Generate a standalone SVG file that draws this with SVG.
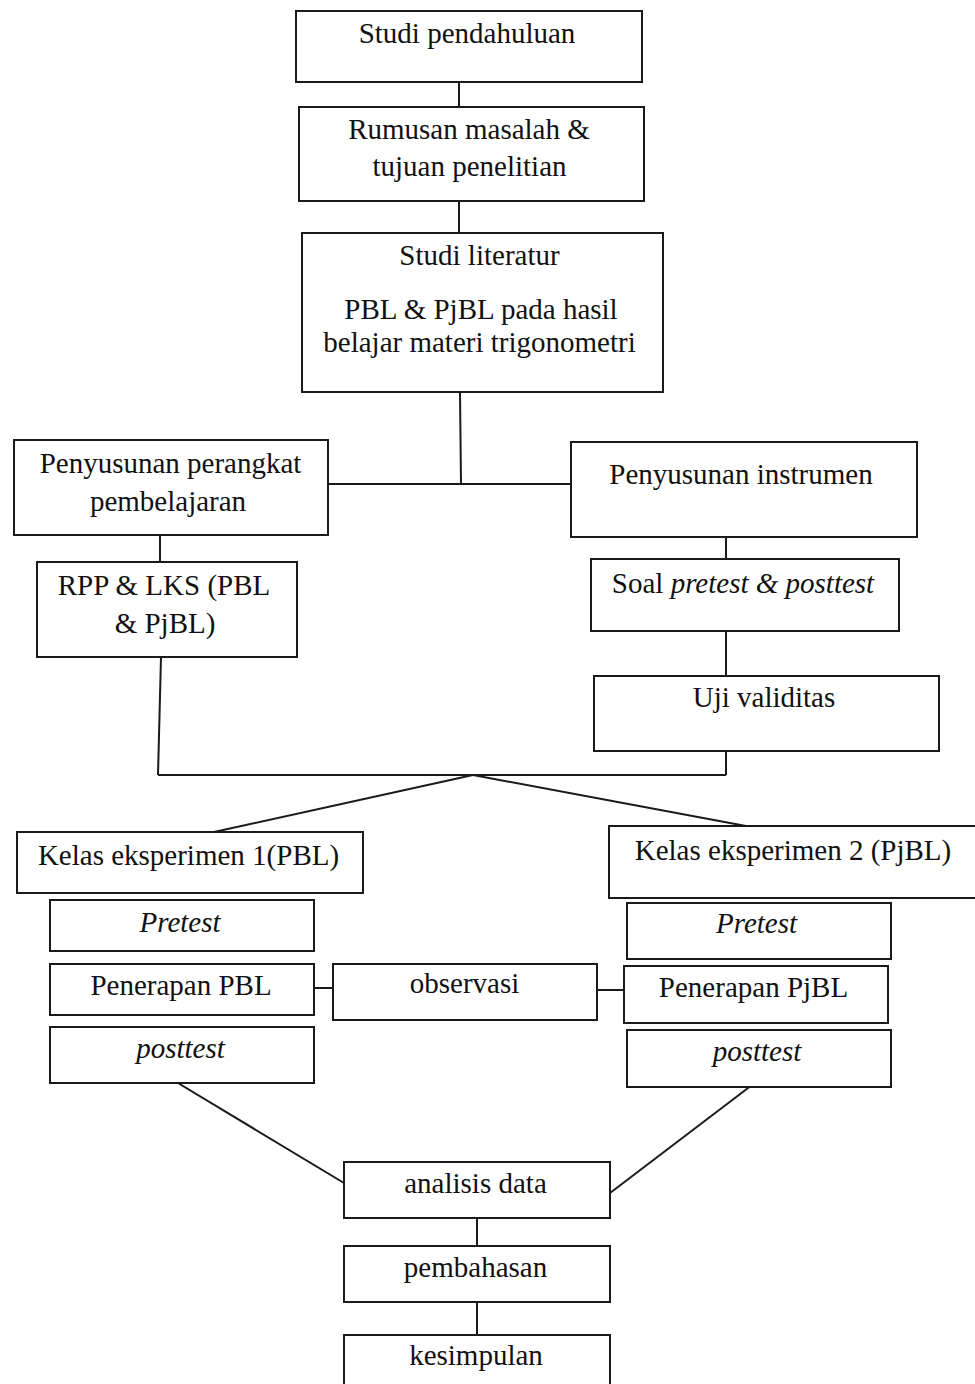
<svg xmlns="http://www.w3.org/2000/svg" width="975" height="1384" viewBox="0 0 975 1384">
<style>
.b{fill:#fff;stroke:#1a1a1a;stroke-width:2}
.c line,.c polyline{stroke:#1a1a1a;stroke-width:2;fill:none}
text{font-family:"Liberation Serif","Times New Roman",serif;font-size:29px;fill:#111;text-anchor:middle}
.i{font-style:italic}
</style>
<rect width="975" height="1384" fill="#fff"/>
<g class="c" id="connectors">
<line x1="459" y1="82" x2="459" y2="107"/>
<line x1="459" y1="201" x2="459" y2="233"/>
<line x1="460" y1="392" x2="461" y2="484"/>
<line x1="328" y1="484" x2="571" y2="484"/>
<line x1="160" y1="535" x2="160" y2="562"/>
<line x1="726" y1="537" x2="726" y2="559"/>
<line x1="726" y1="631" x2="726" y2="676"/>
<line x1="161" y1="657" x2="158" y2="775"/>
<line x1="158" y1="775" x2="726" y2="775"/>
<line x1="726" y1="751" x2="726" y2="775"/>
<line x1="473" y1="775" x2="214" y2="832"/>
<line x1="473" y1="775" x2="746" y2="826"/>
<line x1="314" y1="988" x2="333" y2="988"/>
<line x1="597" y1="990" x2="624" y2="990"/>
<line x1="168" y1="1077" x2="344" y2="1183"/>
<line x1="752" y1="1085" x2="610" y2="1193"/>
<line x1="477" y1="1218" x2="477" y2="1246"/>
<line x1="477" y1="1302" x2="477" y2="1335"/>
</g>
<g id="n1"><rect class="b" x="296" y="11" width="346" height="71"/><text x="467" y="43">Studi pendahuluan</text></g>
<g id="n2"><rect class="b" x="299" y="107" width="345" height="94"/><text x="469" y="139">Rumusan masalah &amp;</text><text x="469.5" y="176">tujuan penelitian</text></g>
<g id="n3"><rect class="b" x="302" y="233" width="361" height="159"/><text x="479.5" y="265">Studi literatur</text><text x="481" y="319">PBL &amp; PjBL pada hasil</text><text x="479.5" y="352">belajar materi trigonometri</text></g>
<g id="n4"><rect class="b" x="14" y="440" width="314" height="95"/><text x="170.5" y="473">Penyusunan perangkat</text><text x="168" y="511">pembelajaran</text></g>
<g id="n5"><rect class="b" x="571" y="442" width="346" height="95"/><text x="741" y="484">Penyusunan instrumen</text></g>
<g id="n6"><rect class="b" x="37" y="562" width="260" height="95"/><text x="164" y="595">RPP &amp; LKS (PBL</text><text x="165" y="633">&amp; PjBL)</text></g>
<g id="n7"><rect class="b" x="591" y="559" width="308" height="72"/><text x="743" y="593">Soal <tspan class="i">pretest &amp; posttest</tspan></text></g>
<g id="n8"><rect class="b" x="594" y="676" width="345" height="75"/><text x="764" y="707">Uji validitas</text></g>
<g id="n9"><rect class="b" x="17" y="832" width="346" height="61"/><text x="188.5" y="865">Kelas eksperimen 1(PBL)</text></g>
<g id="n10"><rect class="b" x="609" y="826" width="380" height="72"/><text x="793" y="860">Kelas eksperimen 2 (PjBL)</text></g>
<g id="n11"><rect class="b" x="50" y="900" width="264" height="51"/><text class="i" x="180" y="932">Pretest</text></g>
<g id="n12"><rect class="b" x="627" y="903" width="264" height="56"/><text class="i" x="756.5" y="933">Pretest</text></g>
<g id="n13"><rect class="b" x="50" y="964" width="264" height="51"/><text x="181" y="995">Penerapan PBL</text></g>
<g id="n14"><rect class="b" x="333" y="964" width="264" height="56"/><text x="464.5" y="993">observasi</text></g>
<g id="n15"><rect class="b" x="624" y="966" width="264" height="57"/><text x="753.5" y="997">Penerapan PjBL</text></g>
<g id="n16"><rect class="b" x="50" y="1027" width="264" height="56"/><text class="i" x="180.5" y="1058">posttest</text></g>
<g id="n17"><rect class="b" x="627" y="1030" width="264" height="57"/><text class="i" x="757" y="1061">posttest</text></g>
<g id="n18"><rect class="b" x="344" y="1162" width="266" height="56"/><text x="475.5" y="1193">analisis data</text></g>
<g id="n19"><rect class="b" x="344" y="1246" width="266" height="56"/><text x="475.5" y="1277">pembahasan</text></g>
<g id="n20"><rect class="b" x="344" y="1335" width="266" height="60"/><text x="476" y="1365">kesimpulan</text></g>
</svg>
